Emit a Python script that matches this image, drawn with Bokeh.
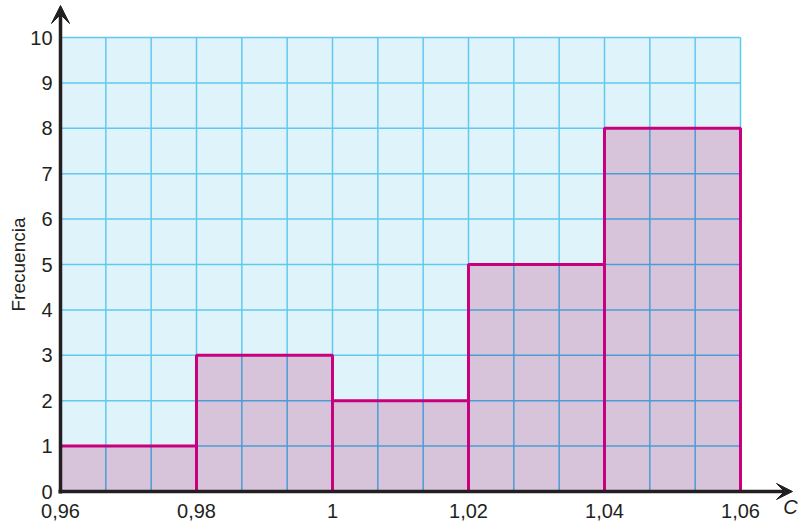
import numpy as np
from bokeh.plotting import figure
from bokeh.models import Range1d, Arrow, VeeHead
from bokeh.core.properties import value
from bokeh.embed import file_html
from bokeh.resources import INLINE

# ---- data ----
bin_edges = [0.96, 0.98, 1.00, 1.02, 1.04, 1.06]
freq = [1, 3, 2, 5, 8]
x_ticks = [0.96, 0.98, 1.00, 1.02, 1.04, 1.06]
x_labels = ["0,96", "0,98", "1", "1,02", "1,04", "1,06"]
y_ticks = [0, 1, 2, 3, 4, 5, 6, 7, 8, 9, 10]
y_labels = [str(v) for v in y_ticks]
x_name = "C"
y_name = "Frecuencia"

# ---- layout (pixel mapping) ----
W, H = 800, 527
X0PX, XSCALE = 60, 6800.0      # px of 0.96, px per unit
Y0PX, YSCALE = 491, 45.4       # px of 0, px per unit
def dx(px):
    return px / XSCALE
def dy(px):
    return px / YSCALE

xs = 0.96 - dx(X0PX)
xe = 0.96 + dx(W - X0PX)
ys = -dy(H - Y0PX)
ye = dy(Y0PX)

p = figure(width=W, height=H, x_range=Range1d(xs, xe), y_range=Range1d(ys, ye),
           x_axis_location=None, y_axis_location=None, toolbar_location=None,
           output_backend="svg", min_border=0, outline_line_color=None)
p.xgrid.visible = False
p.ygrid.visible = False
p.background_fill_color = "white"
p.border_fill_color = "white"

xmin, xmax = bin_edges[0], bin_edges[-1]
ymax = y_ticks[-1]
step = (bin_edges[1] - bin_edges[0]) / 3.0
nv = int(round((xmax - xmin) / step))
vx = [xmin + k * step for k in range(nv + 1)]

# background grid area
p.quad(left=[xmin], right=[xmax], bottom=[0], top=[ymax], fill_color="#dff3fb", line_color=None)

# light grid lines
p.segment(x0=vx, y0=[0] * len(vx), x1=vx, y1=[ymax] * len(vx), line_color="#62c8f0", line_width=1.5)
p.segment(x0=[xmin] * len(y_ticks), y0=y_ticks, x1=[xmax] * len(y_ticks), y1=y_ticks,
          line_color="#62c8f0", line_width=1.5)

# bars
p.quad(left=bin_edges[:-1], right=bin_edges[1:], bottom=[0] * len(freq), top=freq,
       fill_color="#d8c4da", line_color=None)

# grid lines over bars
sx0, sy0, sx1, sy1 = [], [], [], []
for k in range(1, nv):
    if k % 3 != 0:
        b = k // 3
        sx0.append(vx[k]); sx1.append(vx[k]); sy0.append(0); sy1.append(freq[b])
for j in y_ticks[1:-1]:
    for b, f in enumerate(freq):
        if f > j:
            sx0.append(bin_edges[b]); sx1.append(bin_edges[b + 1]); sy0.append(j); sy1.append(j)
p.segment(x0=sx0, y0=sy0, x1=sx1, y1=sy1, line_color="#4a9cd6", line_width=1.5)

# bar outlines
p.quad(left=bin_edges[:-1], right=bin_edges[1:], bottom=[0] * len(freq), top=freq,
       fill_color=None, line_color="#c8007d", line_width=3)

# axes with arrows
axc = "#231f20"
p.add_layout(Arrow(end=VeeHead(size=18, fill_color=axc, line_color=axc),
                   x_start=xmin, y_start=-dy(2), x_end=xmin, y_end=ye - dy(5),
                   line_color=axc, line_width=3.5))
p.add_layout(Arrow(end=VeeHead(size=16, fill_color=axc, line_color=axc),
                   x_start=xmin - dx(2), y_start=0, x_end=xmin + dx(732), y_end=0,
                   line_color=axc, line_width=3.5))

# tick labels
font = value("Liberation Sans")
p.text(x=x_ticks, y=[-dy(19)] * len(x_ticks), text=x_labels, text_font=font,
       text_font_size="20px", text_color=axc, text_align="center", text_baseline="middle")
p.text(x=[xmin - dx(8)] * len(y_ticks), y=y_ticks, text=y_labels, text_font=font,
       text_font_size="20px", text_color=axc, text_align="right", text_baseline="middle")

# axis names
p.text(x=[xmin + dx(730)], y=[-dy(15)], text=[x_name], text_font=font, text_font_style="italic",
       text_font_size="20px", text_color=axc, text_align="center", text_baseline="middle")
p.text(x=[xmin - dx(42)], y=[dy(Y0PX - 264)], text=[y_name], text_font=font, angle=np.pi / 2,
       text_font_size="19px", text_color=axc, text_align="center", text_baseline="middle")

open("out.html", "w").write(file_html(p, INLINE))
